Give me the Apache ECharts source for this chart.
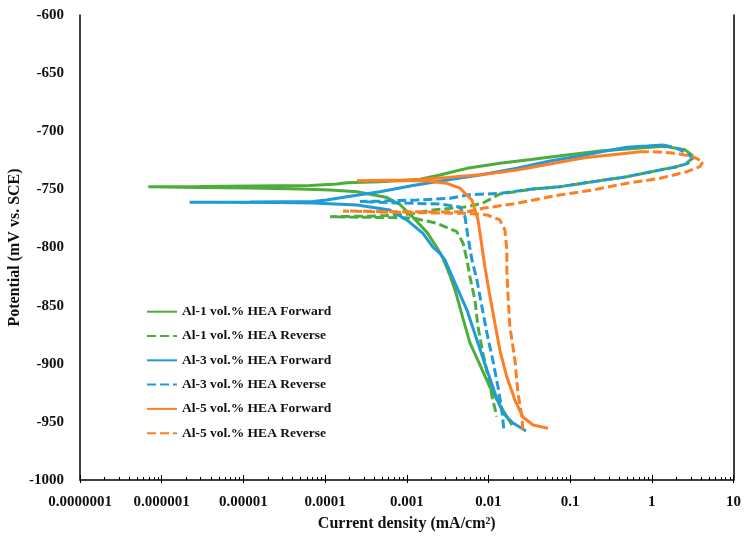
<!DOCTYPE html>
<html>
<head>
<meta charset="utf-8">
<script src="https://cdn.jsdelivr.net/npm/echarts@6/dist/echarts.min.js"></script>
<style>html,body{margin:0;padding:0;background:#fff}#chart{width:749px;height:538px}</style>
</head>
<body>
<div id="chart"></div>
<script>
// ---- Data: [current density (mA/cm2), potential (mV vs. SCE)] ----
const seriesNames = ['Al-1 vol.% HEA Forward', 'Al-1 vol.% HEA Reverse', 'Al-3 vol.% HEA Forward', 'Al-3 vol.% HEA Reverse', 'Al-5 vol.% HEA Forward', 'Al-5 vol.% HEA Reverse'];

const al1Forward = [
  [0.0194, -952.7], [0.0138, -935.5], [0.0104, -920], [0.00787, -901], [0.00594, -882], [0.00474, -858],
  [0.0040, -839], [0.00338, -824], [0.00277, -809], [0.00234, -800], [0.00177, -787], [0.00119, -774],
  [0.000825, -763], [0.000572, -757], [0.000246, -752], [0.000115, -750.5], [4.9e-5, -749.7], [1.2e-5, -748.8],
  [2.9e-6, -748.4], [6.85e-7, -747.7],
  [2.9e-6, -747.5], [1.2e-5, -747.1], [6.5e-5, -746.7], [1.4e-4, -745.4], [1.85e-4, -744.3], [4.7e-4, -743.4],
  [1.45e-3, -741.3], [2.55e-3, -737.6], [3.68e-3, -734.8], [5.46e-3, -731.9], [0.0138, -727.6], [0.0351, -724.1],
  [0.0914, -720.4], [0.232, -717], [0.715, -714.4], [1.45, -713], [2.55, -716], [3.18, -721]
];
const al1Reverse = [
  [3.18, -722.9], [2.69, -727.3], [2.03, -730.5], [1.26, -733.3], [0.496, -739.1], [0.19, -743.4],
  [0.075, -747.7], [0.0351, -749.7], [0.0138, -754], [0.00857, -761.7], [0.00546, -765], [0.00209, -767.7],
  [0.00119, -771], [4.7e-4, -772.9], [1.15e-4, -773.5],
  [4.7e-4, -774.2], [1.19e-3, -774.6], [2.34e-3, -779.2], [4.1e-3, -786.4], [4.9e-3, -796.4], [5.46e-3, -810.7],
  [5.94e-3, -825.4], [6.84e-3, -845.2], [7.44e-3, -868.1], [8.57e-3, -891], [9.87e-3, -911], [0.0113, -931.2],
  [0.0127, -945.5]
];
const al3Forward = [
  [0.0288, -957.8], [0.020, -951], [0.01506, -942.6], [0.012, -925.2], [0.00959, -905.4], [0.00723, -879.6],
  [0.00546, -853.8], [0.0041, -834], [0.00293, -810.7], [0.00255, -805], [0.00209, -799.6], [0.00158, -787.8],
  [0.0010, -776.3], [0.00062, -767.7], [0.000246, -763.4], [7.1e-5, -761.7], [2.8e-5, -761.3], [2.2e-6, -761.1],
  [1.2e-5, -760.9], [7.1e-5, -760.4], [1.05e-4, -759.1], [1.85e-4, -756.3], [4.7e-4, -752], [1.19e-3, -746.7],
  [3.1e-3, -741.9], [7.87e-3, -737.6], [0.0223, -731.9], [0.0566, -725.6], [0.132, -721.3], [0.232, -717.8],
  [0.496, -713.8], [0.871, -712.7], [1.37, -711.8]
];
const al3Reverse = [
  [1.37, -711.8], [2.03, -714.7], [2.69, -719], [3.18, -723], [2.77, -727.6], [2.03, -730.5], [1.26, -733.3],
  [0.496, -739.1], [0.19, -743.4], [0.075, -747.7], [0.0351, -749.7], [0.0138, -753.4], [0.00546, -754.8],
  [0.00338, -757.7], [0.00133, -759.1], [4.7e-4, -760], [2.67e-4, -760.4],
  [8.25e-4, -761.7], [2.55e-3, -762.6], [4.48e-3, -765.2], [5.16e-3, -773.5], [5.61e-3, -790.7], [6.28e-3, -810.7],
  [7.23e-3, -828], [8.32e-3, -851], [9.59e-3, -873.8], [0.0113, -896.8], [0.0131, -920], [0.0146, -939.8],
  [0.0155, -957.8]
];
const al5Forward = [
  [0.0535, -955.5], [0.0351, -952.7], [0.0264, -945.8], [0.0211, -931.2], [0.0168, -911.4], [0.0138, -888.2],
  [0.0118, -862.4], [0.0102, -838], [0.00906, -817], [0.00832, -799], [0.00744, -776], [0.00628, -759.1],
  [0.00448, -749], [0.0031, -744.8], [0.00177, -742.8], [0.000825, -742.4], [0.000246, -742.5],
  [0.00119, -741.9], [0.0031, -739.8], [0.00857, -737.2], [0.0223, -733.3], [0.0566, -728.2], [0.132, -723.4],
  [0.19, -721.9], [0.496, -719], [0.715, -717.6]
];
const al5Reverse = [
  [0.715, -717.6], [1.03, -717.6], [2.03, -719], [3.18, -721.9], [4.23, -726.2], [3.88, -730.5], [2.69, -734.8],
  [1.26, -740.5], [0.496, -744.8], [0.19, -750.5], [0.075, -754.8], [0.0566, -756.3], [0.0223, -762],
  [0.00857, -766.3], [0.00546, -769.2], [0.00209, -769.5], [0.000825, -769.2], [1.66e-4, -768.6],
  [0.000825, -769.9], [0.00546, -770.6], [0.00959, -772], [0.0138, -776.3], [0.0159, -784.9], [0.0168, -802.1],
  [0.0168, -819.4], [0.0173, -839.4], [0.0183, -868.1], [0.0211, -896.8], [0.023, -925.4], [0.0257, -945.5],
  [0.0264, -957.8]
];

const xTickLabels = ['0.0000001', '0.000001', '0.00001', '0.0001', '0.001', '0.01', '0.1', '1', '10'];
const xMinorTickLogs = [];
for (let d = -7; d < 1; d++) { for (let m = 2; m <= 9; m++) { xMinorTickLogs.push(d + Math.log10(m)); } }
const xMajorTickLogs = [-7, -6, -5, -4, -3, -2, -1, 0, 1];

const green = '#4cad3b', blue = '#1e9bd8', orange = '#fd7f24';
const dash = [9, 4];
const font = 'Liberation Serif';
const textColor = '#111';

function mkSeries(name, data, color, dashed) {
  return {
    name: name, type: 'line', data: data, symbol: 'none', showSymbol: false,
    xAxisIndex: 0, yAxisIndex: 0, animation: false,
    lineStyle: { color: color, width: 3, type: dashed ? dash : 'solid', cap: 'butt' },
    itemStyle: { color: color }
  };
}

const chart = echarts.init(document.getElementById('chart'), null, { renderer: 'canvas' });
chart.setOption({
  animation: false,
  backgroundColor: '#fff',
  grid: { left: 80, right: 15.5, top: 15, bottom: 58, containLabel: false, outerBoundsMode: 'none' },
  legend: {
    orient: 'vertical', left: 146, top: 304.7, padding: 0, itemWidth: 30, itemHeight: 14, itemGap: 10.3,
    itemStyle: { opacity: 0 },
    textStyle: { fontFamily: font, fontWeight: 'bold', fontSize: 13.5, color: textColor },
    data: seriesNames
  },
  xAxis: [
    {
      type: 'log', logBase: 10, min: 1e-7, max: 10,
      axisLine: { show: true, onZero: false, lineStyle: { color: '#000', width: 1.5 } },
      axisTick: { show: true, inside: false, length: 3, lineStyle: { color: '#000', width: 1 } },
      axisLabel: {
        margin: 15, fontFamily: font, fontWeight: 'bold', fontSize: 15, color: textColor,
        formatter: function (v) { const e = Math.round(Math.log10(v)); return xTickLabels[e + 7]; }
      },
      splitLine: { show: false },
      name: 'Current density (mA/cm²)', nameLocation: 'middle', nameGap: 36,
      nameTextStyle: { fontFamily: font, fontWeight: 'bold', fontSize: 16, color: textColor }
    },
    {
      type: 'value', min: -7, max: 1, gridIndex: 0, position: 'bottom',
      axisLine: { show: false }, axisLabel: { show: false }, splitLine: { show: false },
      axisTick: { show: true, inside: true, length: 5, customValues: xMajorTickLogs, lineStyle: { color: '#000', width: 1 } }
    },
    {
      type: 'value', min: -7, max: 1, gridIndex: 0, position: 'bottom',
      axisLine: { show: false }, axisLabel: { show: false }, splitLine: { show: false },
      axisTick: { show: true, inside: true, length: 3, customValues: xMinorTickLogs, lineStyle: { color: '#000', width: 1 } }
    }
  ],
  yAxis: [
    {
      type: 'value', min: -1000, max: -600, interval: 50,
      axisLine: { show: true, onZero: false, lineStyle: { color: '#000', width: 1.5 } },
      axisTick: { show: false },
      axisLabel: { margin: 16, fontFamily: font, fontWeight: 'bold', fontSize: 15, color: textColor,
        formatter: function (v) { return String(v); } },
      splitLine: { show: false },
      name: 'Potential (mV vs. SCE)', nameLocation: 'middle', nameGap: 57, nameMoveOverlap: false,
      nameTextStyle: { fontFamily: font, fontWeight: 'bold', fontSize: 16, color: textColor }
    },
    {
      type: 'value', min: -1000, max: -600, position: 'right',
      axisLine: { show: true, onZero: false, lineStyle: { color: '#000', width: 1.5 } },
      axisTick: { show: false }, axisLabel: { show: false }, splitLine: { show: false }
    }
  ],
  series: [
    mkSeries(seriesNames[0], al1Forward, green, false),
    mkSeries(seriesNames[1], al1Reverse, green, true),
    mkSeries(seriesNames[2], al3Forward, blue, false),
    mkSeries(seriesNames[3], al3Reverse, blue, true),
    mkSeries(seriesNames[4], al5Forward, orange, false),
    mkSeries(seriesNames[5], al5Reverse, orange, true)
  ]
});
</script>
</body>
</html>
